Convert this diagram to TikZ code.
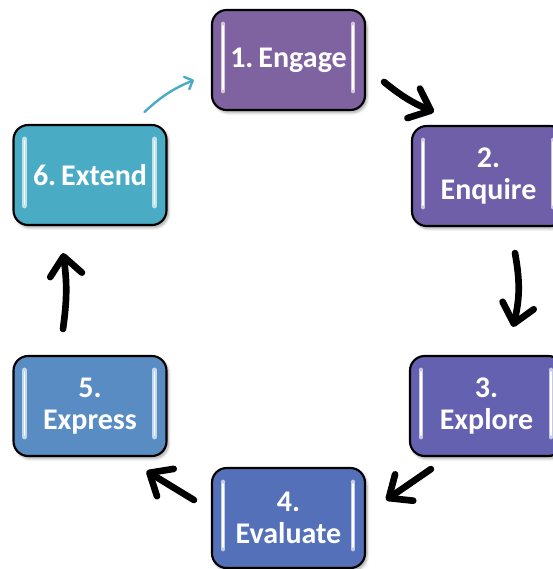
\documentclass[tikz,border=0pt]{standalone}
\usepackage{fontspec}
\setmainfont{Carlito}
\usetikzlibrary{arrows.meta,calc,shadows.blur}

\definecolor{engagec}{HTML}{7F63A1}
\definecolor{enquirec}{HTML}{6F5EA8}
\definecolor{explorec}{HTML}{6461B0}
\definecolor{evaluatec}{HTML}{5470B8}
\definecolor{expressc}{HTML}{5A8CC4}
\definecolor{extendc}{HTML}{4AABC5}

\tikzset{
  stage/.style={draw=black, line width=1.6pt, rounded corners=11pt, fill=#1,
    minimum width=114.75pt, minimum height=75pt, inner sep=2pt,
    text=white, align=center, font=\bfseries\fontsize{22.5}{24}\selectfont,
    blur shadow={shadow xshift=1.5pt, shadow yshift=-2pt, shadow opacity=35, shadow blur steps=6}},
  strip/.style={line width=3.5pt, line cap=round, color=#1!35!white},
  cyclearrow/.style={line width=5pt, line cap=round,
    -{Straight Barb[length=14pt,width=24pt,round]}},
}

\begin{document}
\begin{tikzpicture}[x=0.75pt,y=0.75pt,yscale=-1,xscale=1]
\useasboundingbox (0,0) rectangle (553,569);

%Rounded Rect [engage]
\node[stage=engagec] (engage) at (288.5,60) {1.\,Engage};
%Rounded Rect [enquire]
\node[stage=enquirec] (enquire) at (488.5,176) {2.\\Enquire};
%Rounded Rect [explore]
\node[stage=explorec] (explore) at (486.5,406) {3.\\Explore};
%Rounded Rect [evaluate]
\node[stage=evaluatec] (evaluate) at (288.5,518) {4.\\Evaluate};
%Rounded Rect [express]
\node[stage=expressc] (express) at (90,406) {5.\\Express};
%Rounded Rect [extend]
\node[stage=extendc] (extend) at (90,175) {6.\,Extend};

%Glossy strips
\foreach \n in {engage,enquire,explore,evaluate,express,extend}{
  \draw[strip=\n c] ($(\n.north west)+(12,15)$) -- ($(\n.south west)+(12,-20)$);
  \draw[white, line width=1.2pt, line cap=round] ($(\n.north west)+(12,17)$) -- ($(\n.south west)+(12,-22)$);
  \draw[strip=\n c] ($(\n.north east)+(-13,15)$) -- ($(\n.south east)+(-13,-20)$);
  \draw[white, line width=1.2pt, line cap=round] ($(\n.north east)+(-13,17)$) -- ($(\n.south east)+(-13,-22)$);
}

%Arrows
\draw[cyclearrow] ($(engage.east)+(18,22)$) to[bend left=8] ($(enquire.north west)+(23,-13)$);
\draw[cyclearrow] ($(enquire.south)+(26.5,26)$) to[bend right=12] ($(explore.north)+(26.5,-28)$);
\draw[cyclearrow] ($(explore.south west)+(22,12)$) -- ($(evaluate.east)+(20,-18)$);
\draw[cyclearrow] ($(evaluate.west)+(-17,-18)$) -- ($(express.south east)+(-21,14)$);
\draw[cyclearrow] ($(express.north)+(-27,-26)$) to[bend left=8] ($(extend.south)+(-27,27)$);
\draw[extendc, line width=1.8pt, line cap=round, -{Straight Barb[length=5pt,width=10pt,round]}]
  ($(extend.north east)+(-23,-12)$) to[bend right=10] ($(engage.west)+(-17,20)$);

\end{tikzpicture}
\end{document}
